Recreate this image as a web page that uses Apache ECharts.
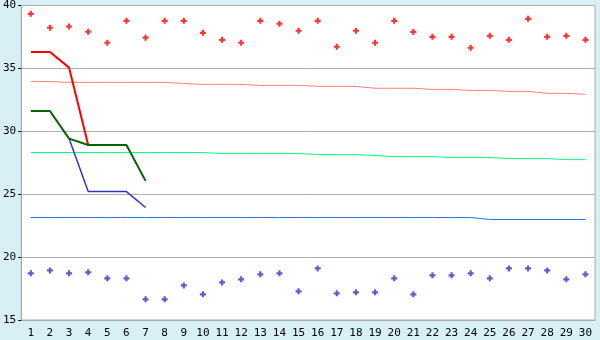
<!DOCTYPE html>
<html>
<head>
<meta charset="utf-8">
<script src="https://cdn.jsdelivr.net/npm/echarts@6/dist/echarts.min.js"></script>
<style>html,body{margin:0;padding:0;background:#d9eff6;}#c{width:600px;height:340px;}</style>
</head>
<body>
<div id="c"></div>
<script>
var categories = ['1','2','3','4','5','6','7','8','9','10','11','12','13','14','15','16','17','18','19','20','21','22','23','24','25','26','27','28','29','30'];
var yTicks = {min: 15, max: 40, interval: 5};

var redPoints = [39.34, 38.23, 38.33, 37.91, 37.04, 38.78, 37.44, 38.78, 38.78, 37.83, 37.27, 37.04, 38.78, 38.55, 37.99, 38.78, 36.72, 37.99, 37.04, 38.78, 37.9, 37.51, 37.51, 36.64, 37.59, 37.27, 38.94, 37.51, 37.59, 37.27];
var bluePoints = [18.71, 18.94, 18.71, 18.79, 18.31, 18.31, 16.64, 16.64, 17.75, 17.04, 17.99, 18.23, 18.63, 18.71, 17.28, 19.10, 17.12, 17.20, 17.20, 18.31, 17.04, 18.55, 18.55, 18.71, 18.31, 19.10, 19.10, 18.94, 18.23, 18.63];

var redLine = [36.3, 36.3, 35.06, 28.91];
var greenLine = [31.61, 31.61, 29.42, 28.91, 28.91, 28.91, 26.06];
var blueLine = [null, null, 29.42, 25.21, 25.21, 25.21, 23.94];

var pinkLevel = [33.97, 33.95, 33.89, 33.89, 33.89, 33.89, 33.89, 33.89, 33.8, 33.73, 33.73, 33.73, 33.65, 33.65, 33.65, 33.57, 33.57, 33.57, 33.42, 33.42, 33.42, 33.33, 33.33, 33.25, 33.25, 33.17, 33.17, 33.02, 33.02, 32.94];
var lightGreenLevel = [28.31, 28.31, 28.31, 28.31, 28.31, 28.31, 28.31, 28.31, 28.31, 28.31, 28.23, 28.23, 28.23, 28.23, 28.23, 28.15, 28.15, 28.15, 28.07, 27.99, 27.99, 27.99, 27.91, 27.91, 27.91, 27.83, 27.83, 27.83, 27.75, 27.75];
var blueLevel = [23.15, 23.15, 23.15, 23.15, 23.15, 23.15, 23.15, 23.15, 23.15, 23.15, 23.15, 23.15, 23.15, 23.15, 23.15, 23.15, 23.15, 23.15, 23.15, 23.15, 23.15, 23.15, 23.15, 23.15, 22.99, 22.99, 22.99, 22.99, 22.99, 22.99];

var plusSymbol = 'path://M1.6,0H3.4V1.6H5V3.4H3.4V5H1.6V3.4H0V1.6H1.6Z';
var font = {fontFamily: 'DejaVu Sans Mono', fontSize: 11, color: '#000'};

function lineSeries(data, color, width) {
  return {type: 'line', data: data, symbol: 'none', connectNulls: false,
          lineStyle: {color: color, width: width}, silent: true, z: 2};
}

var chart = echarts.init(document.getElementById('c'), null, {renderer: 'canvas'});
chart.setOption({
  animation: false,
  backgroundColor: '#d9eff6',
  grid: {left: 20, right: 5, top: 5, bottom: 20, show: true, backgroundColor: '#ffffff', borderColor: '#aaaaaa', borderWidth: 1},
  xAxis: {
    type: 'category', data: categories, boundaryGap: true,
    axisLine: {lineStyle: {color: '#aaaaaa', width: 1}},
    axisTick: {alignWithLabel: true, length: 5, lineStyle: {color: '#000'}},
    axisLabel: Object.assign({margin: 8, interval: 0}, font),
    splitLine: {show: false}
  },
  yAxis: {
    type: 'value', min: yTicks.min, max: yTicks.max, interval: yTicks.interval,
    axisLine: {show: true, lineStyle: {color: '#aaaaaa', width: 1}},
    axisTick: {show: true, length: 3, lineStyle: {color: '#000'}},
    axisLabel: Object.assign({margin: 5}, font),
    splitLine: {show: true, lineStyle: {color: '#b0b0b0', width: 1}}
  },
  series: [
    lineSeries(pinkLevel, '#ff8080', 1),
    lineSeries(lightGreenLevel, '#00ff80', 1),
    lineSeries(blueLevel, '#1e78dc', 1),
    lineSeries(blueLine, '#3333cc', 1.5),
    lineSeries(redLine, '#ff0000', 2),
    lineSeries(greenLine, '#006600', 2),
    {type: 'scatter', data: redPoints, symbol: plusSymbol, symbolSize: 6, itemStyle: {color: '#ff0000'}, z: 3},
    {type: 'scatter', data: bluePoints, symbol: plusSymbol, symbolSize: 6, itemStyle: {color: '#3333cc'}, z: 3}
  ]
});
</script>
</body>
</html>
